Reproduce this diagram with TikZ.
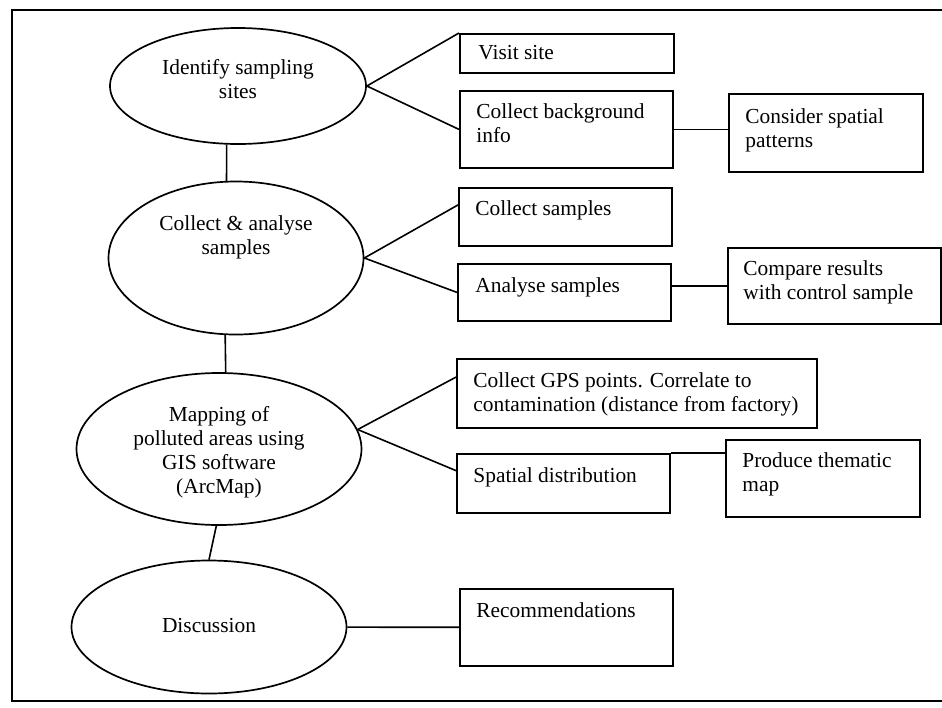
\documentclass[tikz,border=0pt]{standalone}
\usepackage{fontspec}
\setmainfont{Liberation Serif}
\usetikzlibrary{shapes.geometric,calc,positioning}

\newcommand{\flowfont}{\fontsize{10.7}{12}\selectfont}

\tikzset{
  stage/.style={draw, ellipse, inner sep=0pt, line width=0.85pt},
  stagetext/.style={align=center, inner sep=0pt, font=\flowfont},
  task/.style={draw, rectangle, anchor=north west, inner sep=0pt, line width=0.9pt},
  tasktext/.style={anchor=north west, align=left, inner sep=0pt, font=\flowfont},
  link/.style={line width=0.8pt}
}

\begin{document}
\begin{tikzpicture}[x=0.5pt, y=-0.5pt]
    \useasboundingbox (0,0) rectangle (942,707);
    % Frame (right side cut off)
    \draw[line width=0.9pt] (942,10) -- (12,10) -- (12,701) -- (942,701);

    % Stages
    \node[stage, minimum width=128pt, minimum height=58pt] (s1) at (238,86) {};
    \node[stagetext] (s1-t) at ([yshift=3.5pt]s1.center) {Identify sampling\\sites};
    \node[stage, minimum width=127.5pt, minimum height=76.5pt] (s2) at (236,258) {};
    \node[stagetext] (s2-t) at ([yshift=10.25pt]s2.center) {Collect \& analyse\\samples};
    \node[stage, minimum width=142.5pt, minimum height=76pt] (s3) at (219,449) {};
    \node[stagetext] (s3-t) at ([yshift=-1.5pt]s3.center) {Mapping of\\polluted areas using\\GIS software\\(ArcMap)};
    \node[stage, minimum width=137.5pt, minimum height=66.5pt] (s4) at (209,627) {};
    \node[stagetext] (s4-t) at ([yshift=0.5pt]s4.center) {Discussion};

    % Tasks, first column
    \node[task, minimum width=107pt, minimum height=19.5pt] (visit) at (459,33) {};
    \node[tasktext] (visit-t) at ([shift={(9.5pt,-6pt)}]visit.north west) {Visit site};
    \node[task, minimum width=106.5pt, minimum height=38.5pt] (backgr) at (459,90) {};
    \node[tasktext] (backgr-t) at ([shift={(8.5pt,-6.5pt)}]backgr.north west) {Collect background\\info};
    \node[task, minimum width=106.5pt, minimum height=29pt] (csamp) at (458,187) {};
    \node[tasktext] (csamp-t) at ([shift={(8.5pt,-6.5pt)}]csamp.north west) {Collect samples};
    \node[task, minimum width=106.5pt, minimum height=28.5pt] (asamp) at (457,263) {};
    \node[tasktext] (asamp-t) at ([shift={(9pt,-7pt)}]asamp.north west) {Analyse samples};
    \node[task, minimum width=180pt, minimum height=34.5pt] (gps) at (456,358) {};
    \node[tasktext] (gps-t) at ([shift={(8.5pt,-7pt)}]gps.north west) {Collect GPS points. Correlate to\\contamination (distance from factory)};
    \node[task, minimum width=106.5pt, minimum height=29.5pt] (spatial) at (456,453) {};
    \node[tasktext] (spatial-t) at ([shift={(8.5pt,-7pt)}]spatial.north west) {Spatial distribution};
    \node[task, minimum width=106.5pt, minimum height=38.5pt] (reco) at (459,588) {};
    \node[tasktext] (reco-t) at ([shift={(8.5pt,-7pt)}]reco.north west) {Recommendations};

    % Tasks, second column
    \node[task, minimum width=97pt, minimum height=39pt] (consider) at (728,93) {};
    \node[tasktext] (consider-t) at ([shift={(8.5pt,-7.5pt)}]consider.north west) {Consider spatial\\patterns};
    \node[task, minimum width=106.5pt, minimum height=38pt] (compare) at (727,247) {};
    \node[tasktext] (compare-t) at ([shift={(8pt,-6.5pt)}]compare.north west) {Compare results\\with control sample};
    \node[task, minimum width=97pt, minimum height=38.5pt] (produce) at (725,439) {};
    \node[tasktext] (produce-t) at ([shift={(8.5pt,-6.5pt)}]produce.north west) {Produce thematic\\map};

    % Links between stages
    \draw[link] (s1.259) -- (s2.97);
    \draw[link] (s2.262) -- (s3.85);
    \draw[link] (s3.268) -- (s4.north);

    % Links to tasks
    \draw[link] (s1.east) -- (visit.north west);
    \draw[link] (s1.east) -- (backgr.west);
    \draw[link] (s2.east) -- ($(csamp.north west)!0.3!(csamp.south west)$);
    \draw[link] (s2.east) -- (asamp.west);
    \draw[link] (s3.8) -- ($(gps.north west)!0.27!(gps.south west)$);
    \draw[link] (s3.8) -- ($(spatial.north west)!0.29!(spatial.south west)$);
    \draw[link] (s4) -- (reco);
    \draw[link] (backgr.east) -- (backgr.east -| consider.west);
    \draw[link] (compare.west -| asamp.east) -- (compare.west);
    \draw[link] (spatial.north east) -- (spatial.north east -| produce.west);
\end{tikzpicture}
\end{document}
